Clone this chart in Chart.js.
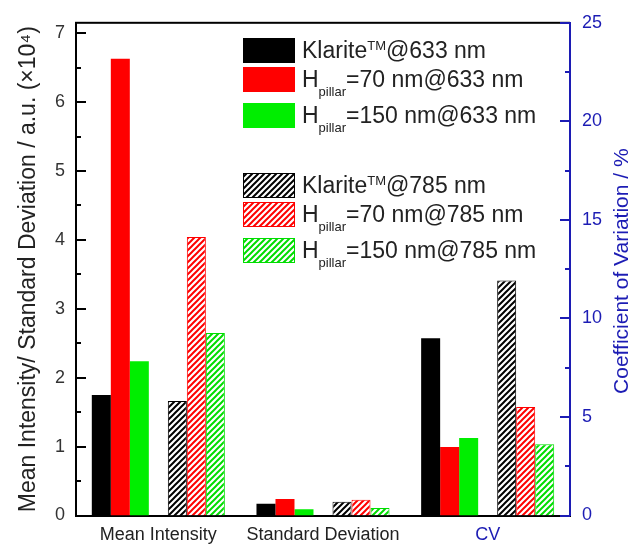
<!DOCTYPE html>
<html>
<head>
<meta charset="utf-8">
<script src="https://cdn.jsdelivr.net/npm/chart.js@4.4.0/dist/chart.umd.min.js"></script>
<style>
  html, body { margin: 0; padding: 0; background: #fff; }
  canvas { display: block; }
</style>
</head>
<body>
<canvas id="barChart" width="631" height="544"></canvas>
<script>
// categories on the x axis
const categories = ["Mean Intensity", "Standard Deviation", "CV"];
const seriesNames = [
    "Klarite^{TM}@633 nm",
    "H_{pillar}=70 nm@633 nm",
    "H_{pillar}=150 nm@633 nm",
    "Klarite^{TM}@785 nm",
    "H_{pillar}=70 nm@785 nm",
    "H_{pillar}=150 nm@785 nm"
];
// [mean intensity (x10^4), std deviation (x10^4), CV (%)]
const klarite633 = [1.75, 0.17, 9.0];
const pillar70at633 = [6.63, 0.24, 3.47];
const pillar150at633 = [2.24, 0.09, 3.93];
const klarite785 = [1.66, 0.20, 11.93];
const pillar70at785 = [4.04, 0.23, 5.5];
const pillar150at785 = [2.65, 0.11, 3.62];
const leftTicks = [0, 1, 2, 3, 4, 5, 6, 7];
const rightTicks = [0, 5, 10, 15, 20, 25];

const seriesValues = [klarite633, pillar70at633, pillar150at633, klarite785, pillar70at785, pillar150at785];
const seriesColors = ["#000000", "#ff0000", "#00ee00", "#000000", "#ff0000", "#00dd00"];
const seriesHatched = [false, false, false, true, true, true];

const fontFamily = "'Liberation Sans', Arial, sans-serif";
const blue = "#1c1cb4";
const textColor = "#222222";

Chart.defaults.font.family = fontFamily;
Chart.defaults.color = textColor;

function hatch(color) {
    let c = document.createElement("canvas");
    c.width = 6;
    c.height = 6;
    let g = c.getContext("2d");
    g.fillStyle = "#ffffff";
    g.fillRect(0, 0, 6, 6);
    g.strokeStyle = color;
    g.lineWidth = 2;
    g.beginPath();
    g.moveTo(0, 6); g.lineTo(6, 0);
    g.moveTo(-3, 3); g.lineTo(3, -3);
    g.moveTo(3, 9); g.lineTo(9, 3);
    g.stroke();
    return g.createPattern(c, "repeat");
}

let fills = seriesColors.map((col, i) => seriesHatched[i] ? hatch(col) : col);

// left-axis bars for the first two groups, right-axis bars for CV;
// both share one "stack" slot so they sit in the same position
let datasets = [];
seriesValues.forEach((vals, i) => {
    if (i === 3) {
        datasets.push({ label: "gap", data: [null, null, null], stack: "gap", yAxisID: "y" });
    }
    let style = {
        backgroundColor: fills[i],
        borderColor: seriesColors[i],
        borderWidth: seriesHatched[i] ? 1 : 0,
        stack: "s" + i
    };
    datasets.push(Object.assign({ label: seriesNames[i], data: [vals[0], vals[1], null], yAxisID: "y" }, style));
    datasets.push(Object.assign({ label: seriesNames[i], data: [null, null, vals[2]], yAxisID: "y1" }, style));
});

function drawRich(ctx, text, x, y) {
    let parts = text.split(/([\^_]\{[^}]*\})/).filter(Boolean);
    ctx.textAlign = "left";
    ctx.textBaseline = "alphabetic";
    ctx.fillStyle = textColor;
    parts.forEach(p => {
        let size = 23, dy = 0, s = p;
        if (p[0] === "^" && p[1] === "{") { size = 13; dy = -8; s = p.slice(2, -1); }
        else if (p[0] === "_" && p[1] === "{") { size = 13; dy = 9; s = p.slice(2, -1); }
        ctx.font = size + "px " + fontFamily;
        ctx.fillText(s, x, y + dy);
        x += ctx.measureText(s).width;
    });
}

const legendTops = [38, 67, 103, 173, 202, 238];

const decorations = {
    id: "decorations",
    afterDraw(chart) {
        let ctx = chart.ctx;
        let area = chart.chartArea;
        let y = chart.scales.y, y1 = chart.scales.y1;
        ctx.save();
        // top frame
        ctx.fillStyle = "#000";
        ctx.fillRect(area.left - 1, area.top - 1, area.right - area.left + 1, 2);
        // inward ticks, left
        for (let k = 0; k <= 14; k++) {
            let py = Math.round(y.getPixelForValue(k / 2));
            let len = k % 2 === 0 ? 10 : 5;
            ctx.fillRect(area.left, py - 1, len, 2);
        }
        // inward ticks, right
        ctx.fillStyle = blue;
        for (let k = 0; k <= 10; k++) {
            let py = Math.round(y1.getPixelForValue(k * 2.5));
            let len = k % 2 === 0 ? 10 : 5;
            ctx.fillRect(area.right - len, py - 1, len, 2);
        }

        // right axis title, reads bottom to top
        ctx.translate(622, (area.top + area.bottom) / 2 + 2);
        ctx.rotate(-Math.PI / 2);
        ctx.font = "21px " + fontFamily;
        ctx.fillStyle = blue;
        ctx.textAlign = "center";
        ctx.textBaseline = "middle";
        ctx.fillText("Coefficient of Variation / %", 0, 0);
        ctx.restore();

        // legend
        ctx.save();
        seriesNames.forEach((name, i) => {
            let top = legendTops[i];
            ctx.fillStyle = fills[i];
            ctx.fillRect(243, top, 52, 25);
            if (seriesHatched[i]) {
                ctx.strokeStyle = seriesColors[i];
                ctx.lineWidth = 1;
                ctx.strokeRect(243.5, top + 0.5, 51, 24);
            }
            drawRich(ctx, name, 302, top + 20);
        });
        ctx.restore();
    }
};

new Chart(document.getElementById("barChart").getContext("2d"), {
    type: "bar",
    data: {
        labels: categories,
        datasets: datasets
    },
    options: {
        responsive: false,
        animation: false,
        layout: { padding: { top: 22, left: 0, right: 0, bottom: 0 } },
        datasets: {
            bar: { categoryPercentage: 0.808, barPercentage: 1.0 }
        },
        plugins: {
            legend: { display: false },
            tooltip: { enabled: false }
        },
        scales: {
            x: {
                grid: { display: false, drawTicks: false },
                border: { color: "#000", width: 2 },
                ticks: {
                    padding: 9,
                    font: { size: 18 },
                    color: ctx => ctx.index === 2 ? blue : textColor
                },
                afterFit: s => { s.height = 28.5; }
            },
            y: {
                position: "left",
                min: 0,
                max: 7.15,
                grid: { display: false, drawTicks: false },
                border: { color: "#000", width: 2 },
                ticks: { padding: 11, font: { size: 18 }, color: "#333333" },
                afterBuildTicks: s => { s.ticks = leftTicks.map(v => ({ value: v })); },
                title: {
                    display: true,
                    text: "Mean Intensity/ Standard Deviation / a.u. (×10⁴)",
                    font: { size: 23 },
                    color: textColor,
                    padding: { top: 15, bottom: 0 }
                },
                afterFit: s => { s.width = 76; }
            },
            y1: {
                position: "right",
                min: 0,
                max: 25,
                grid: { display: false, drawTicks: false },
                border: { color: blue, width: 2 },
                ticks: { padding: 12, font: { size: 18 }, color: blue },
                afterBuildTicks: s => { s.ticks = rightTicks.map(v => ({ value: v })); },
                afterFit: s => { s.width = 61; }
            }
        }
    },
    plugins: [decorations]
});
</script>
</body>
</html>
